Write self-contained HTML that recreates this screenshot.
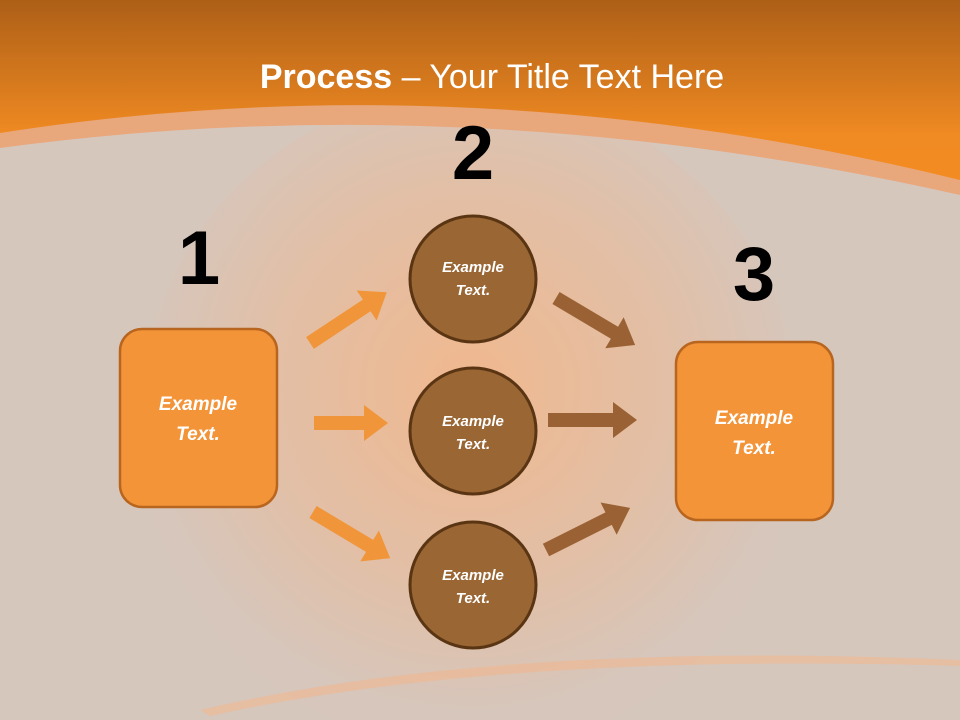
<!DOCTYPE html>
<html><head><meta charset="utf-8"><style>html,body{margin:0;padding:0;}svg{display:block}</style></head>
<body>
<svg width="960" height="720" viewBox="0 0 960 720" xmlns="http://www.w3.org/2000/svg" font-family="Liberation Sans, sans-serif">
<defs>
<linearGradient id="top" x1="0" y1="0" x2="0" y2="1">
<stop offset="0" stop-color="#ad5f17"/><stop offset="0.75" stop-color="#f08a22"/><stop offset="1" stop-color="#f28c22"/>
</linearGradient>
<radialGradient id="glow" cx="0.5" cy="0.45" r="0.5">
<stop offset="0" stop-color="#f0b88e"/><stop offset="0.6" stop-color="#e2bfa6"/><stop offset="1" stop-color="#d6c6bc"/>
</radialGradient>
</defs>
<rect width="960" height="720" fill="#d6c7bd"/>
<ellipse cx="470" cy="420" rx="330" ry="330" fill="url(#glow)"/>
<path d="M0 148 Q470 84.5 960 195 L960 0 L0 0 Z" fill="#e9a77c"/>
<path d="M0 133 Q470 59.5 960 180 L960 0 L0 0 Z" fill="url(#top)"/>
<path d="M200 710 Q500 640 960 660 L960 666 Q500 652 210 716 Z" fill="#f0b890" opacity="0.6"/>
<text x="492" y="88" text-anchor="middle" fill="#fff" font-size="34"><tspan font-weight="bold">Process</tspan> – Your Title Text Here</text>
<g font-weight="bold" font-size="76" fill="#000" text-anchor="middle">
<text x="199" y="284">1</text><text x="473" y="179">2</text><text x="754" y="300">3</text>
</g>
<g fill="#f0953a">
<polygon transform="translate(310,343) rotate(-33.5)" points="0,-7 68,-7 68,-18 92,0 68,18 68,7 0,7"/>
<polygon transform="translate(314,423)" points="0,-7 50,-7 50,-18 74,0 50,18 50,7 0,7"/>
<polygon transform="translate(313,512) rotate(30.9)" points="0,-7 66,-7 66,-18 90,0 66,18 66,7 0,7"/>
</g>
<g fill="#9a6234">
<polygon transform="translate(556,298) rotate(30.7)" points="0,-7 68,-7 68,-18 92,0 68,18 68,7 0,7"/>
<polygon transform="translate(548,420)" points="0,-7 65,-7 65,-18 89,0 65,18 65,7 0,7"/>
<polygon transform="translate(546,550) rotate(-26.6)" points="0,-7 70,-7 70,-18 94,0 70,18 70,7 0,7"/>
</g>
<g fill="#9a6634" stroke="#5a3514" stroke-width="3">
<circle cx="473" cy="279" r="63"/><circle cx="473" cy="431" r="63"/><circle cx="473" cy="585" r="63"/>
</g>
<g fill="#f39439" stroke="#b8651f" stroke-width="2.5">
<rect x="120" y="329" width="157" height="178" rx="22"/>
<rect x="676" y="342" width="157" height="178" rx="22"/>
</g>
<g fill="#fff" font-weight="bold" font-style="italic" text-anchor="middle">
<text x="473" y="272" font-size="15">Example</text><text x="473" y="295" font-size="15">Text.</text>
<text x="473" y="426" font-size="15">Example</text><text x="473" y="449" font-size="15">Text.</text>
<text x="473" y="580" font-size="15">Example</text><text x="473" y="603" font-size="15">Text.</text>
<text x="198" y="410" font-size="19">Example</text><text x="198" y="440" font-size="19">Text.</text>
<text x="754" y="424" font-size="19">Example</text><text x="754" y="454" font-size="19">Text.</text>
</g>
</svg>
</body></html>
